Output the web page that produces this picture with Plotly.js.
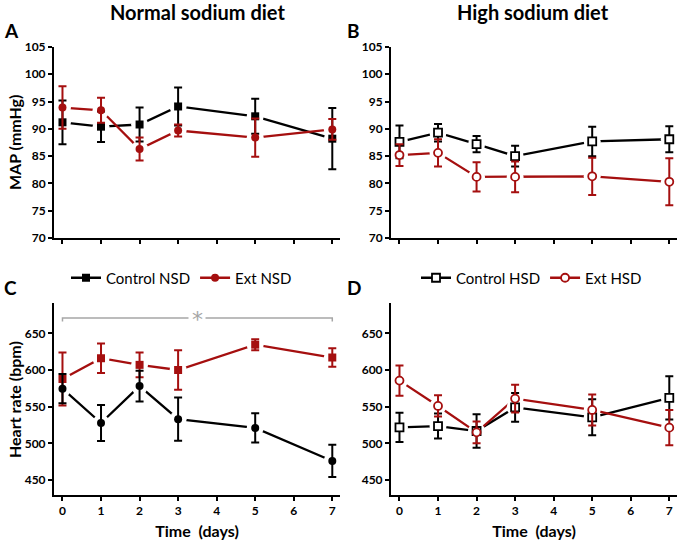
<!DOCTYPE html>
<html>
<head>
<meta charset="utf-8">
<script src="https://cdn.plot.ly/plotly-3.0.1.min.js"></script>
<style>html,body{margin:0;padding:0;background:#fff}#chart{width:677px;height:542px}</style>
</head>
<body>
<div id="chart"></div>
<script>
// ---- Data ----
const days = [0, 1, 2, 3, 5, 7];

// Panel A: MAP, normal sodium diet
const mapControlNSD    = [91.2, 90.4, 90.8, 94.1, 92.3, 88.2];
const mapControlNSDErr = [4.0, 2.8, 3.1, 3.5, 3.2, 5.6];
const mapExtNSD        = [93.9, 93.4, 86.3, 89.7, 88.4, 89.9];
const mapExtNSDErr     = [3.9, 2.3, 2.1, 1.1, 3.5, 1.9];

// Panel B: MAP, high sodium diet
const mapControlHSD    = [87.6, 89.3, 87.2, 85.0, 87.7, 88.1];
const mapControlHSDErr = [3.0, 1.6, 1.5, 1.9, 2.7, 2.4];
const mapExtHSD        = [85.2, 85.6, 81.2, 81.2, 81.3, 80.3];
const mapExtHSDErr     = [2.0, 2.5, 2.7, 2.8, 3.4, 4.3];

// Panel C: heart rate, normal sodium diet
const hrControlNSD    = [574.5, 527.7, 578, 533, 521, 476];
const hrControlNSDErr = [20, 24.5, 21, 29.5, 20, 22];
const hrExtNSD        = [587.7, 616, 607, 600, 634.5, 617];
const hrExtNSDErr     = [36, 20, 17, 27, 7.5, 12.5];

// Panel D: heart rate, high sodium diet
const hrControlHSD    = [521.8, 523.6, 516.8, 549, 535.5, 562];
const hrControlHSDErr = [20, 17, 22.7, 19.5, 24.5, 29.5];
const hrExtHSD        = [585.5, 551, 515, 561, 545.5, 521.4];
const hrExtHSDErr     = [20.5, 14.5, 14.7, 19, 21, 24];

// Significance bracket in panel C
const bracketX = [0, 0, 7, 7];
const bracketY = [666, 671, 671, 666];
const bracketStarX = 3.5;
const bracketStarY = 671;

const names = {ctrlNSD: 'Control NSD', extNSD: 'Ext NSD', ctrlHSD: 'Control HSD', extHSD: 'Ext HSD'};

// ---- Styles ----
const FONT = 'Lato, "Open Sans", sans-serif';
const BLACK = '#000000';
const RED = '#a50f0f';
const GRAY = '#a6a6a6';

const lineTraces = [], maskTraces = [], markTraces = [];

function addSeries(xa, ya, y, err, color, symbol, open, name, legend, showLegend) {
  const marker = open
    ? {symbol: symbol, size: 8, color: '#ffffff', line: {color: color, width: 1.8}}
    : {symbol: symbol, size: 8, color: color, line: {width: 0}};
  lineTraces.push({
    type: 'scatter', mode: 'lines+markers', x: days, y: y, xaxis: xa, yaxis: ya,
    name: name, legend: legend, showlegend: showLegend, hoverinfo: 'skip',
    line: {color: color, width: 2.3}, marker: marker
  });
  maskTraces.push({
    type: 'scatter', mode: 'markers', x: days, y: y, xaxis: xa, yaxis: ya,
    showlegend: false, hoverinfo: 'skip',
    marker: {symbol: 'circle', size: 17, color: '#ffffff', line: {width: 0}}
  });
  markTraces.push({
    type: 'scatter', mode: 'markers', x: days, y: y, xaxis: xa, yaxis: ya,
    showlegend: false, name: name,
    marker: marker,
    error_y: {type: 'data', array: err, visible: true, color: color, thickness: 2, width: 4}
  });
}

addSeries('x', 'y', mapControlNSD, mapControlNSDErr, BLACK, 'square', false, names.ctrlNSD, 'legend', true);
addSeries('x', 'y', mapExtNSD, mapExtNSDErr, RED, 'circle', false, names.extNSD, 'legend', true);
addSeries('x2', 'y2', mapControlHSD, mapControlHSDErr, BLACK, 'square', true, names.ctrlHSD, 'legend2', true);
addSeries('x2', 'y2', mapExtHSD, mapExtHSDErr, RED, 'circle', true, names.extHSD, 'legend2', true);
addSeries('x3', 'y3', hrExtNSD, hrExtNSDErr, RED, 'square', false, names.extNSD, 'legend', false);
addSeries('x3', 'y3', hrControlNSD, hrControlNSDErr, BLACK, 'circle', false, names.ctrlNSD, 'legend', false);
addSeries('x4', 'y4', hrControlHSD, hrControlHSDErr, BLACK, 'square', true, names.ctrlHSD, 'legend2', false);
addSeries('x4', 'y4', hrExtHSD, hrExtHSDErr, RED, 'circle', true, names.extHSD, 'legend2', false);

const bracket = {
  type: 'scatter', mode: 'lines', x: bracketX, y: bracketY, xaxis: 'x3', yaxis: 'y3',
  showlegend: false, hoverinfo: 'skip', line: {color: GRAY, width: 1.5}
};

const data = [bracket].concat(lineTraces, maskTraces, markTraces);

// ---- Layout ----
const W = 677, H = 542;
const px = v => v / W;
const py = v => 1 - v / H;

const tickFont = {family: FONT, size: 12, color: '#000', weight: 'bold'};
const titleFont = {family: FONT, size: 16, color: '#000', weight: 'bold'};

function xAxis(domain, anchor, labels, title) {
  return {
    domain: domain, anchor: anchor, range: [-0.22, 7.2],
    showline: true, linecolor: '#000', linewidth: 2, mirror: false,
    ticks: 'outside', ticklen: 4, tickwidth: 2, tickcolor: '#000',
    tick0: 0, dtick: 1, showgrid: false, zeroline: false,
    showticklabels: labels, tickfont: tickFont,
    title: title ? {text: title, font: titleFont, standoff: 8} : {text: ''}
  };
}
function yAxis(domain, anchor, range, dtick, tick0) {
  return {
    domain: domain, anchor: anchor, range: range,
    showline: true, linecolor: '#000', linewidth: 2,
    ticks: 'outside', ticklen: 4, tickwidth: 2, tickcolor: '#000',
    tick0: tick0, dtick: dtick, showgrid: false, zeroline: false,
    tickfont: tickFont, title: {text: ''}
  };
}

const domLeft = [px(54), px(340)];
const domRight = [px(391), 1];
const domTop = [py(238), py(47)];
const domBottom = [py(495), py(303)];
const mapRange = [70, 105];
const hrRange = [429.6, 691.3];

const letterFont = {family: FONT, size: 19, color: '#000', weight: 'bold'};
const legendFont = {family: FONT, size: 15, color: '#000'};
const headFont = {family: FONT, size: 20, color: '#000', weight: 'bold'};

const layout = {
  width: W, height: H,
  margin: {l: 0, r: 0, t: 0, b: 0},
  paper_bgcolor: '#ffffff', plot_bgcolor: '#ffffff',
  font: {family: FONT, color: '#000'},
  hovermode: false,
  xaxis: xAxis(domLeft, 'y', false, ''),
  yaxis: yAxis(domTop, 'x', mapRange, 5, 70),
  xaxis2: xAxis(domRight, 'y2', false, ''),
  yaxis2: yAxis(domTop, 'x2', mapRange, 5, 70),
  xaxis3: xAxis(domLeft, 'y3', true, 'Time  (days)'),
  yaxis3: yAxis(domBottom, 'x3', hrRange, 50, 450),
  xaxis4: xAxis(domRight, 'y4', true, 'Time  (days)'),
  yaxis4: yAxis(domBottom, 'x4', hrRange, 50, 450),
  legend: {
    orientation: 'h', x: px(66), xanchor: 'left', y: py(278), yanchor: 'middle',
    font: legendFont, bgcolor: 'rgba(0,0,0,0)', itemwidth: 30, tracegroupgap: 0
  },
  legend2: {
    orientation: 'h', x: px(416), xanchor: 'left', y: py(278), yanchor: 'middle',
    font: legendFont, bgcolor: 'rgba(0,0,0,0)', itemwidth: 30, tracegroupgap: 0
  },
  annotations: [
    {text: 'Normal sodium diet', xref: 'paper', yref: 'paper', x: px(197), y: py(12), xanchor: 'center', yanchor: 'middle', showarrow: false, font: headFont},
    {text: 'High sodium diet', xref: 'paper', yref: 'paper', x: px(533), y: py(12), xanchor: 'center', yanchor: 'middle', showarrow: false, font: headFont},
    {text: 'MAP (mmHg)', xref: 'paper', yref: 'paper', x: px(14), y: py(143), xanchor: 'center', yanchor: 'middle', textangle: -90, showarrow: false, font: titleFont},
    {text: 'Heart rate (bpm)', xref: 'paper', yref: 'paper', x: px(14), y: py(400), xanchor: 'center', yanchor: 'middle', textangle: -90, showarrow: false, font: titleFont},
    {text: 'A', xref: 'paper', yref: 'paper', x: px(2), y: py(30), xanchor: 'left', yanchor: 'middle', showarrow: false, font: letterFont},
    {text: 'B', xref: 'paper', yref: 'paper', x: px(345), y: py(30), xanchor: 'left', yanchor: 'middle', showarrow: false, font: letterFont},
    {text: 'C', xref: 'paper', yref: 'paper', x: px(2), y: py(287), xanchor: 'left', yanchor: 'middle', showarrow: false, font: letterFont},
    {text: 'D', xref: 'paper', yref: 'paper', x: px(345), y: py(287), xanchor: 'left', yanchor: 'middle', showarrow: false, font: letterFont},
    {text: '', xref: 'x3', yref: 'y3', x: bracketStarX, y: bracketStarY, xanchor: 'center', yanchor: 'middle', width: 16, height: 4, showarrow: false, bgcolor: '#ffffff', borderpad: 0},
    {text: '*', xref: 'x3', yref: 'y3', x: bracketStarX, y: bracketStarY, xanchor: 'center', yanchor: 'middle', yshift: -2, showarrow: false, bgcolor: 'rgba(0,0,0,0)', borderpad: 0, font: {family: '"DejaVu Sans", sans-serif', size: 22, color: GRAY}}
  ]
};

Plotly.newPlot('chart', data, layout, {displayModeBar: false, staticPlot: true});
</script>
</body>
</html>
